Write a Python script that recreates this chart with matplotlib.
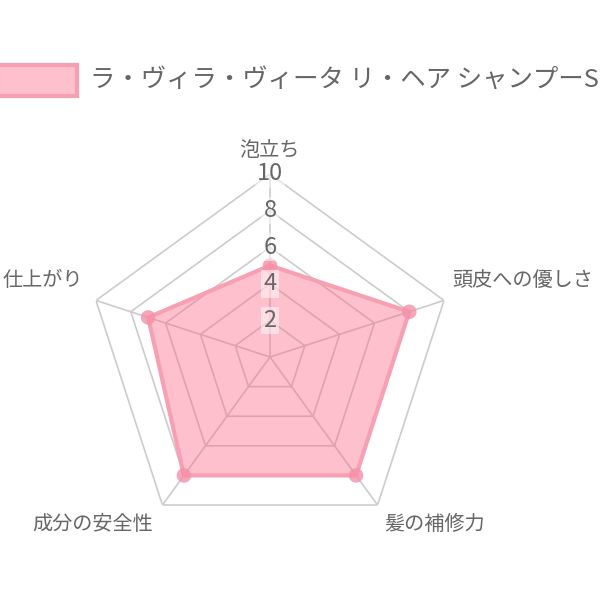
import numpy as np
import matplotlib
matplotlib.use("Agg")
import matplotlib.pyplot as plt
from matplotlib.patches import Rectangle

plt.rcParams['font.family'] = ['Noto Sans CJK JP', 'DejaVu Sans']

categories = ["泡立ち", "頭皮への優しさ", "髪の補修力", "成分の安全性", "仕上がり"]
values = [5, 8, 8, 8, 7]
series_name = "ラ・ヴィラ・ヴィータ リ・ヘア シャンプーS"
ticks = [2, 4, 6, 8, 10]
rmax = 10

text_color = "#666666"
grid_color = "#cccccc"
fill_color = (255/255, 99/255, 132/255, 0.40)
line_color = "#f7a0b3"
point_color = "#f590a8"

fig = plt.figure(figsize=(6, 6), dpi=100)
ax = fig.add_axes([0.145, 0.1, 0.61, 0.61], projection='polar')
ax.set_theta_offset(np.pi / 2)
ax.set_theta_direction(-1)
ax.set_ylim(0, rmax)
ax.grid(False)
ax.spines['polar'].set_visible(False)
ax.set_xticks([])
ax.set_yticks([])
ax.patch.set_alpha(0)

n = len(categories)
angles = np.linspace(0, 2 * np.pi, n, endpoint=False)
closed = np.concatenate([angles, angles[:1]])

# grid pentagons
for t in ticks:
    ax.plot(closed, [t] * (n + 1), color=grid_color, lw=1.2, zorder=1)
# angle lines
for a in angles:
    ax.plot([a, a], [0, rmax], color=grid_color, lw=1.2, zorder=1)

vals = np.array(values + values[:1], dtype=float)
ax.fill(closed, vals, color=fill_color, zorder=2, lw=0)
ax.plot(closed, vals, color=line_color, lw=3, zorder=3)
ax.scatter(angles, values, s=110, color=point_color, alpha=0.8, zorder=4, edgecolors='none')

# tick labels
for t in ticks:
    ax.text(0, t, str(t), ha='center', va='center', fontsize=17, color=text_color,
            zorder=5, bbox=dict(boxstyle='square,pad=0.1', fc=(1, 1, 1, 0.5), ec='none'))

# category labels (figure pixel coordinates)
label_pos = [(269, 150, 'center'), (452, 281, 'left'), (435, 525, 'center'),
             (93, 525, 'center'), (83, 281, 'right')]
for lab, (x, y, ha) in zip(categories, label_pos):
    fig.text(x / 600, 1 - y / 600, lab, ha=ha, va='center', fontsize=14.5, color=text_color)

# legend
fig.patches.append(Rectangle((-2 / 600, 1 - 96 / 600), 79 / 600, 31 / 600, transform=fig.transFigure,
                             fc=(255/255, 99/255, 132/255, 0.40), ec=line_color, lw=3, figure=fig))
fig.text(90 / 600, 1 - 80 / 600, series_name, ha='left', va='center', fontsize=18.3, color=text_color)

fig.savefig("out.png", dpi=100, facecolor='white')
